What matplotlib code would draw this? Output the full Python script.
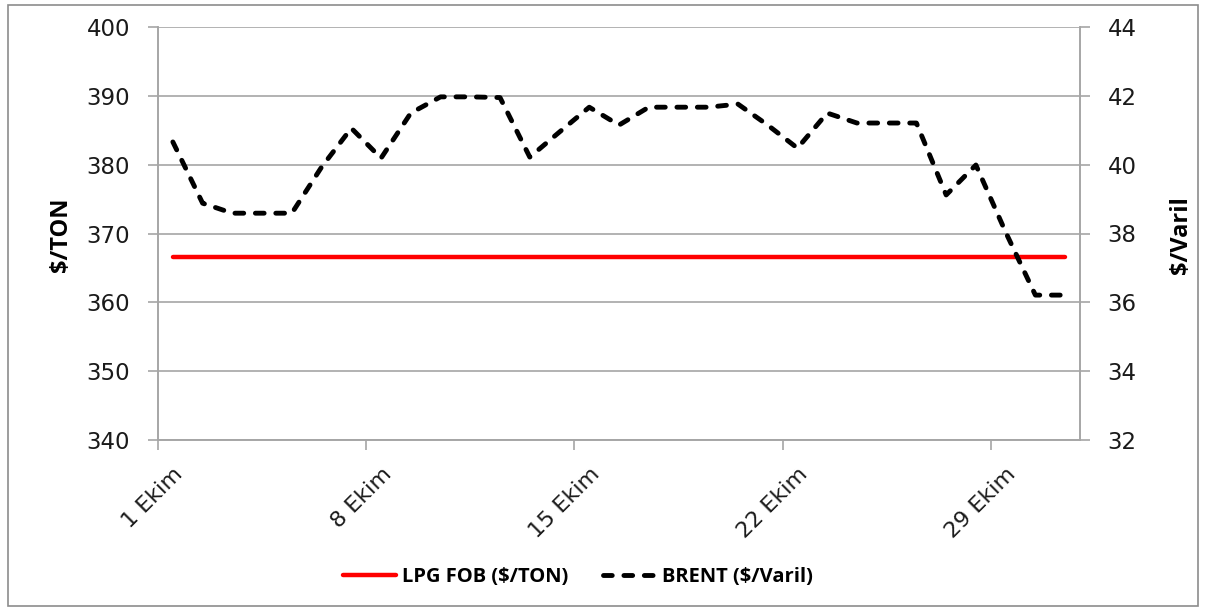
"""LPG FOB vs BRENT, October daily prices."""

import matplotlib

matplotlib.use("Agg")

import matplotlib.pyplot as plt
from matplotlib.patches import Rectangle

plt.rcParams["font.family"] = ["DejaVu Sans"]

days = [f"{d} Ekim" for d in range(1, 32)]
tick_days = [1, 8, 15, 22, 29]

lpg_fob = [366.6] * 31
brent = [
    40.66, 38.88, 38.59, 38.59, 38.59, 39.93, 41.06, 40.19, 41.50, 41.97,
    41.97, 41.95, 40.22, 40.95, 41.67, 41.15, 41.67, 41.67, 41.67, 41.76,
    41.15, 40.48, 41.50, 41.21, 41.21, 41.21, 39.12, 39.99, 38.04, 36.21,
    36.21,
]

GRID = "#A6A6A6"
TEXT = "#1A1A1A"

fig = plt.figure(figsize=(12.08, 6.10), dpi=100)
ax = fig.add_axes([158 / 1208, 1 - 440 / 610, 922 / 1208, 413 / 610])
ax2 = ax.twinx()

x = list(range(len(days)))
ax.plot(x, lpg_fob, color="#FF0000", linewidth=3.2, solid_capstyle="round",
        label="LPG FOB ($/TON)", zorder=3)
ax2.plot(x, brent, color="black", linewidth=3.5, dashes=(1.8, 2.4),
         dash_capstyle="round", label="BRENT ($/Varil)", zorder=3)

ax.set_xlim(-0.5, len(days) - 0.5)
ax.set_ylim(340, 400)
ax.set_yticks(range(340, 401, 10))
ax2.set_ylim(32, 44)
ax2.set_yticks(range(32, 45, 2))

ax.yaxis.grid(True, color=GRID, linewidth=1.2)
ax.set_axisbelow(True)

# category labels at day centres, tick marks at category boundaries
label_pos = [d - 1 for d in tick_days]
ax.set_xticks(label_pos)
ax.set_xticklabels([days[i] for i in label_pos], rotation=45, ha="right",
                   va="top", rotation_mode="anchor", fontsize=16, color=TEXT)
ax.tick_params(axis="x", length=0, pad=17)
ax.set_xticks([p - 0.5 for p in label_pos], minor=True)
ax.tick_params(axis="x", which="minor", length=7, width=1.2, color=GRID)

for a in (ax, ax2):
    a.spines["top"].set_visible(False)
    for side in ("left", "right", "bottom"):
        a.spines[side].set_color(GRID)
        a.spines[side].set_linewidth(1.2)
    a.tick_params(axis="y", length=7, width=1.2, color=GRID, labelsize=16.5,
                  labelcolor=TEXT, pad=13)

label_font = {"family": "Open Sans", "size": 17, "weight": "bold"}
ax.set_ylabel("$/TON", fontdict=label_font)
ax2.set_ylabel("$/Varil", fontdict=label_font)
ax.yaxis.set_label_coords(-0.092, 0.496)
ax2.yaxis.set_label_coords(1.096, 0.496)

handles = ax.get_lines()[:1] + ax2.get_lines()[:1]
fig.legend(handles, [h.get_label() for h in handles], loc="center",
           bbox_to_anchor=(578 / 1208, 1 - 577 / 610), ncol=2, frameon=False,
           prop={"family": "Open Sans", "size": 14.5, "weight": "bold"},
           handlelength=2.6, columnspacing=1.75, handletextpad=0.3)

fig.patches.append(Rectangle((8 / 1208, 4 / 610), 1190 / 1208, 601 / 610,
                             transform=fig.transFigure, fill=False,
                             edgecolor="#8C8C8C", linewidth=1.2))

fig.savefig("out.png", dpi=100)
plt.close(fig)
